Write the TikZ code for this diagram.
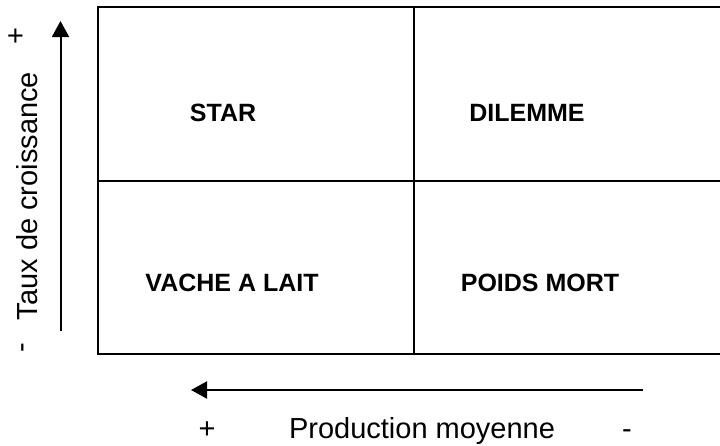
\documentclass[tikz,border=0pt]{standalone}
\usepackage{fontspec}
\setmainfont{Liberation Sans}
\usetikzlibrary{arrows.meta}
\begin{document}
\begin{tikzpicture}[x=1pt,y=-1pt,
  gridline/.style={line width=2pt,line cap=rect},
  axisarrow/.style={line width=2pt,-{Triangle[length=16pt,width=17pt]}},
  cell/.style={font=\fontsize{25}{30}\selectfont\bfseries,inner sep=0pt,anchor=base},
  axislabel/.style={font=\fontsize{29}{34}\selectfont,inner sep=0pt},
]
\useasboundingbox (0,0) rectangle (720,445);
% grid
\coordinate (tl) at (98,7);
\coordinate (bl) at (98,354);
\coordinate (tr) at (722,7);
\coordinate (br) at (722,354);
\coordinate (ml) at (98,181);
\coordinate (mr) at (722,181);
\coordinate (mt) at (414,7);
\coordinate (mb) at (414,354);
\draw[gridline] (tr) -- (tl) -- (bl) -- (br);
\draw[gridline] (ml) -- (mr);
\draw[gridline] (mt) -- (mb);
% cell labels
\node[cell] (star) at (223,121) {STAR};
\node[cell] (dilemme) at (527,121) {DILEMME};
\node[cell] (vache) at (232,291) {VACHE A LAIT};
\node[cell] (poids) at (540,291) {POIDS MORT};
% vertical axis
\coordinate (vs) at (60.5,331);
\coordinate (ve) at (60.5,21);
\draw[axisarrow] (vs) -- (ve);
\node[axislabel,rotate=90,anchor=base] (taux) at (37,196) {Taux de croissance};
\node[axislabel,rotate=90] (vplus) at (17.5,36.5) {+};
\node[axislabel,rotate=90] (vminus) at (26.5,347.5) {-};
% horizontal axis
\coordinate (hs) at (643,390);
\coordinate (he) at (191,390);
\draw[axisarrow] (hs) -- (he);
\node[axislabel,anchor=base] (prod) at (422,438) {Production moyenne};
\node[axislabel,anchor=base] (hplus) at (207,438) {+};
\node[axislabel,anchor=base] (hminus) at (627,438) {-};
\end{tikzpicture}
\end{document}
